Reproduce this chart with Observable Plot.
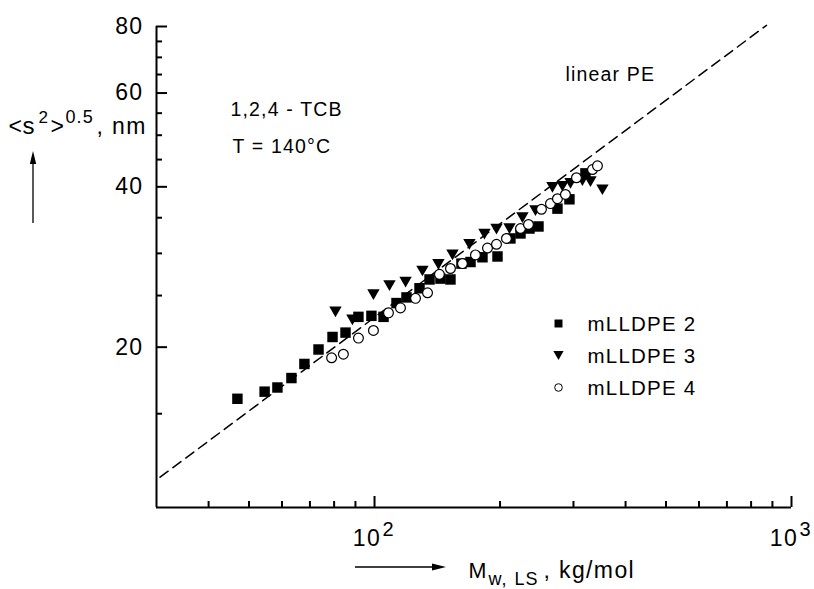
<!DOCTYPE html>
<html><head><meta charset="utf-8">
<script src="https://cdn.jsdelivr.net/npm/d3@7"></script>
<script src="https://cdn.jsdelivr.net/npm/@observablehq/plot@0.6"></script>
<style>
html,body{margin:0;padding:0;background:#fff;}
#chart svg text{letter-spacing:0.06em;}
</style>
</head><body><div id="chart"></div>
<script>
// ---- data (M_w,LS in kg/mol, <s^2>^0.5 in nm) ----
const m2 = [46.9, 54.5, 58.5, 63.2, 67.9, 73.4, 79.3, 85.2, 91.5, 98.3, 105.1, 112.9, 119.3, 128.2, 135.5, 143.9, 152.1, 161.6, 169.9, 181.5, 197.2, 211.8, 223.9, 235.3, 247.3, 274.6, 293.4, 320.5];
const s2 = [16.0, 16.5, 16.8, 17.5, 18.6, 19.8, 20.9, 21.3, 22.8, 22.9, 22.8, 24.2, 24.8, 25.8, 26.8, 26.9, 26.8, 28.7, 28.9, 29.5, 29.6, 32.0, 32.7, 33.4, 33.7, 36.4, 37.9, 42.4];
const m3 = [80.6, 88.5, 99.4, 108.6, 118.7, 130.3, 142.3, 153.8, 168.9, 183.5, 196.1, 210.7, 226.3, 243.2, 267.1, 282.3, 295.1, 315.2, 329.5, 352.0];
const s3 = [23.3, 22.5, 25.1, 26.1, 26.5, 27.8, 28.6, 29.8, 31.2, 32.6, 33.3, 33.4, 35.0, 36.1, 39.9, 40.1, 40.6, 41.1, 40.9, 39.5];
const m4 = [78.9, 84.2, 91.5, 99.4, 108.0, 115.4, 125.4, 134.0, 143.1, 152.1, 162.5, 174.6, 186.6, 196.1, 207.2, 223.9, 234.0, 251.4, 264.2, 274.6, 287.0, 305.0, 333.2, 342.5];
const s4 = [19.1, 19.4, 20.8, 21.5, 23.2, 23.7, 24.7, 25.3, 27.4, 28.1, 28.7, 29.8, 30.7, 31.2, 32.0, 33.4, 34.0, 36.3, 37.2, 38.0, 38.7, 41.6, 43.1, 43.8];
const linePEm = [30.6, 871];
const linePEs = [11.4, 80.4];
const seriesNames = ["mLLDPE 2", "mLLDPE 3", "mLLDPE 4"];
const xDomain = [30, 1000];
const yDomain = [10, 80];
const xMajor = [100, 1000];
const xMinor = [40, 50, 60, 70, 80, 90, 200, 300, 400, 500, 600, 700, 800, 900];
const yMajor = [20, 40, 60, 80];
const yMinor = [15, 25, 30, 35, 45, 50, 55, 65, 70, 75];

// ---- layout ----
const W = 814, H = 589, ML = 156, MR = 23, MT = 26, MB = 82;
const PW = W - ML - MR, PH = H - MT - MB;

const zip = (a, b) => a.map((v, i) => ({m: v, s: b[i]}));
const d2 = zip(m2, s2), d3s = zip(m3, s3), d4 = zip(m4, s4);
const lineData = zip(linePEm, linePEs);

const downTriangle = {
  draw(ctx, size) {
    const y = Math.sqrt(size / (3 * Math.sqrt(3)));
    const x = Math.sqrt(3) * y;
    ctx.moveTo(0, 1.5 * y);
    ctx.lineTo(-x, -1.5 * y);
    ctx.lineTo(x, -1.5 * y);
    ctx.closePath();
  }
};

function label(t, px, pyBase, size, opts = {}) {
  return Plot.text([t], {
    frameAnchor: "top-left", dx: px - ML, dy: pyBase - MT,
    text: d => d, fontSize: size, textAnchor: "start", lineAnchor: "bottom",
    fill: "black", ...opts
  });
}

const legendRows = [323, 355, 387];
const legendSym = ["square", downTriangle, "circle"];

const chart = Plot.plot({
  width: W, height: H,
  marginLeft: ML, marginRight: MR, marginTop: MT, marginBottom: MB,
  x: {type: "log", domain: xDomain, axis: null},
  y: {type: "log", domain: yDomain, axis: null},
  style: {fontFamily: "'Liberation Sans', Arial, sans-serif", background: "white", color: "black"},
  marks: [
    // axis lines
    Plot.ruleX([xDomain[0]], {stroke: "black", strokeWidth: 2}),
    Plot.ruleY([yDomain[0]], {stroke: "black", strokeWidth: 2}),
    // inward ticks
    Plot.ruleX(xMinor, {x: d => d, insetTop: PH - 6, stroke: "black", strokeWidth: 2}),
    Plot.ruleX(xMajor, {x: d => d, insetTop: PH - 11, stroke: "black", strokeWidth: 2}),
    Plot.ruleY(yMinor, {y: d => d, insetRight: PW - 6, stroke: "black", strokeWidth: 2}),
    Plot.ruleY(yMajor, {y: d => d, insetRight: PW - 11, stroke: "black", strokeWidth: 2}),
    // tick labels
    Plot.text(yMajor, {frameAnchor: "left", y: d => d, text: d => String(d), textAnchor: "end", dx: -13, fontSize: 23, fill: "black"}),
    Plot.text(xMajor, {frameAnchor: "bottom", x: d => d, text: () => "10", textAnchor: "middle", dx: -7.5, dy: 38, lineAnchor: "bottom", fontSize: 23, fill: "black"}),
    Plot.text(xMajor, {frameAnchor: "bottom", x: d => d, text: d => String(Math.round(Math.log10(d))), textAnchor: "start", dx: 8, dy: 28, lineAnchor: "bottom", fontSize: 20, fill: "black"}),
    // linear PE reference line
    Plot.line(lineData, {x: "m", y: "s", stroke: "black", strokeWidth: 1.5, strokeDasharray: "10,6"}),
    // data
    Plot.dot(d2, {x: "m", y: "s", symbol: "square", r: 5.9, fill: "black", stroke: "none"}),
    Plot.dot(d3s, {x: "m", y: "s", symbol: downTriangle, r: 4.6, fill: "black", stroke: "none"}),
    Plot.dot(d4, {x: "m", y: "s", symbol: "circle", r: 4.9, fill: "white", stroke: "black", strokeWidth: 1.2}),
    // legend
    ...seriesNames.map((name, i) => Plot.dot([name], {
      frameAnchor: "top-left", dx: 558 - ML, dy: legendRows[i] - MT,
      symbol: legendSym[i], r: i === 0 ? 4.5 : 3.8,
      fill: i === 2 ? "white" : "black", stroke: i === 2 ? "black" : "none", strokeWidth: 1
    })),
    ...seriesNames.map((name, i) => label(name, 587, legendRows[i] + 7, 20.5)),
    // annotations
    label("linear PE", 565, 80, 19.5),
    label("1,2,4 - TCB", 230, 115, 19.5),
    label("T = 140°C", 232, 152, 19.5),
    // y axis title: <s²>^0.5, nm
    label("<", 8, 133, 23),
    label("s", 22, 133, 24),
    label("2", 38, 122, 17),
    label(">", 50, 133, 23),
    label("0.5", 65, 122, 18),
    label(", nm", 96, 133, 23),
    // x axis title: M_w,LS, kg/mol
    label("M", 468, 577, 21.5),
    label("w,", 488, 584, 18),
    label("LS", 514, 584, 18),
    label(", kg/mol", 543, 577, 23)
  ]
});

// decorative axis-title arrows
const svg = d3.select(chart);
svg.append("line").attr("x1", 33).attr("y1", 223).attr("x2", 33).attr("y2", 162)
  .attr("stroke", "black").attr("stroke-width", 1.3);
svg.append("path").attr("d", "M33,151 L29.8,164 L36.2,164 Z").attr("fill", "black");
svg.append("line").attr("x1", 355).attr("y1", 567).attr("x2", 434).attr("y2", 567)
  .attr("stroke", "black").attr("stroke-width", 1.3);
svg.append("path").attr("d", "M446,567 L432,563.5 L432,570.5 Z").attr("fill", "black");

document.getElementById("chart").appendChild(chart);
</script></body></html>
